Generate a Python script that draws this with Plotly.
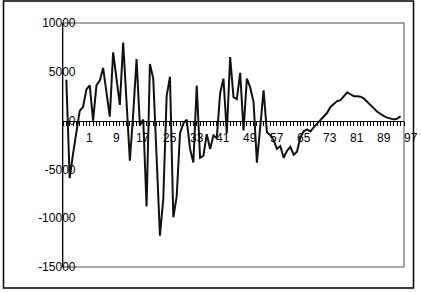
import plotly.graph_objects as go

# data values (one value per category, in order)
values = [4200, -5900, -3400, -1100, 1000, 1400, 3200, 3600, 0, 3600,
          4100, 5400, 2600, 400, 7000, 4200, 1600, 8000, 1500, -4100,
          700, 6300, -500, 100, -8800, 5800, 4300, -3500, -11800, -8000,
          2500, 4500, -9900, -7800, -1300, -300, 100, -2900, -4300, 3600,
          -3800, -3600, -1400, -2900, -1500, -1800, 2800, 4300, -1300, 6500,
          2400, 2200, 4900, -1000, 4300, 3400, 1900, -4300, -500, 3100,
          -1200, -1500, -2000, -2900, -2600, -3800, -3100, -2700, -3500, -3200,
          -1700, -1100, -900, -1100, -700, -300, 0, 400, 800, 1400,
          1700, 2000, 2100, 2500, 2900, 2700, 2500, 2500, 2450, 2250,
          1950, 1600, 1250, 900, 650, 450, 300, 200, 120, 200, 450]
first_category = -6
categories = list(range(first_category, first_category + len(values)))

x_tick_labels = ["1", "9", "17", "25", "33", "41", "49", "57", "65", "73", "81", "89", "97"]
y_tick_values = [10000, 5000, 0, -5000, -10000, -15000]
y_tick_labels = ["10000", "5000", "0", "-5000", "-10000", "-15000"]

FONT = "Liberation Sans, Arial, sans-serif"
x_range = [-7, 95]
y_range = [-15000, 10000]

fig = go.Figure()
fig.add_trace(go.Scatter(x=categories, y=values, mode="lines",
                         line=dict(color="#111111", width=2),
                         hoverinfo="skip", showlegend=False))

zero_frac = (0 - y_range[0]) / (y_range[1] - y_range[0])

fig.update_layout(
    width=421, height=292,
    margin=dict(l=63, r=17, t=23, b=25),
    paper_bgcolor="white", plot_bgcolor="white",
    showlegend=False,
    font=dict(family=FONT, size=12, color="black"),
    xaxis=dict(range=x_range, anchor="free", position=zero_frac,
               showgrid=False, zeroline=False,
               showline=True, linecolor="black", linewidth=1,
               tickmode="array", tickvals=[int(t) for t in x_tick_labels if int(t) <= x_range[1]],
               ticks="outside", ticklen=4, tickcolor="black", tickwidth=1,
               showticklabels=False,
               minor=dict(dtick=1, tick0=0, ticks="outside", ticklen=4,
                          tickcolor="black", tickwidth=1, showgrid=False)),
    yaxis=dict(range=y_range, showgrid=False, zeroline=False,
               showline=True, linecolor="black", linewidth=1.2,
               tickmode="array", tickvals=y_tick_values, ticktext=y_tick_labels,
               ticks="", ticklabelstandoff=-16,
               tickfont=dict(family=FONT, size=12, color="black")),
)

# x tick labels (placed at the category they label, below the zero-crossing axis);
# paper x-reference so the last label (just past the plot edge) is not hidden
for lab in x_tick_labels:
    xp = (int(lab) - x_range[0]) / (x_range[1] - x_range[0])
    fig.add_annotation(x=xp, y=0, xref="paper", yref="y", text=lab,
                       showarrow=False, yshift=-17.5, yanchor="middle",
                       xanchor="center",
                       font=dict(family=FONT, size=12, color="black"))

# plot-area frame (grey) and outer chart frame (black)
fig.add_shape(type="rect", xref="paper", yref="paper", x0=0, x1=1, y0=0, y1=1,
              line=dict(color="#8a8a8a", width=1.5), layer="below")
pw, ph = 421 - 63 - 17, 292 - 23 - 25
fig.add_shape(type="rect", xref="paper", yref="paper",
              x0=(3.5 - 63) / pw, x1=(413.5 - 63) / pw,
              y0=-(288 - (23 + ph)) / ph, y1=1 + (23 - 1) / ph,
              line=dict(color="black", width=1.5))

fig.write_html("out.html")
